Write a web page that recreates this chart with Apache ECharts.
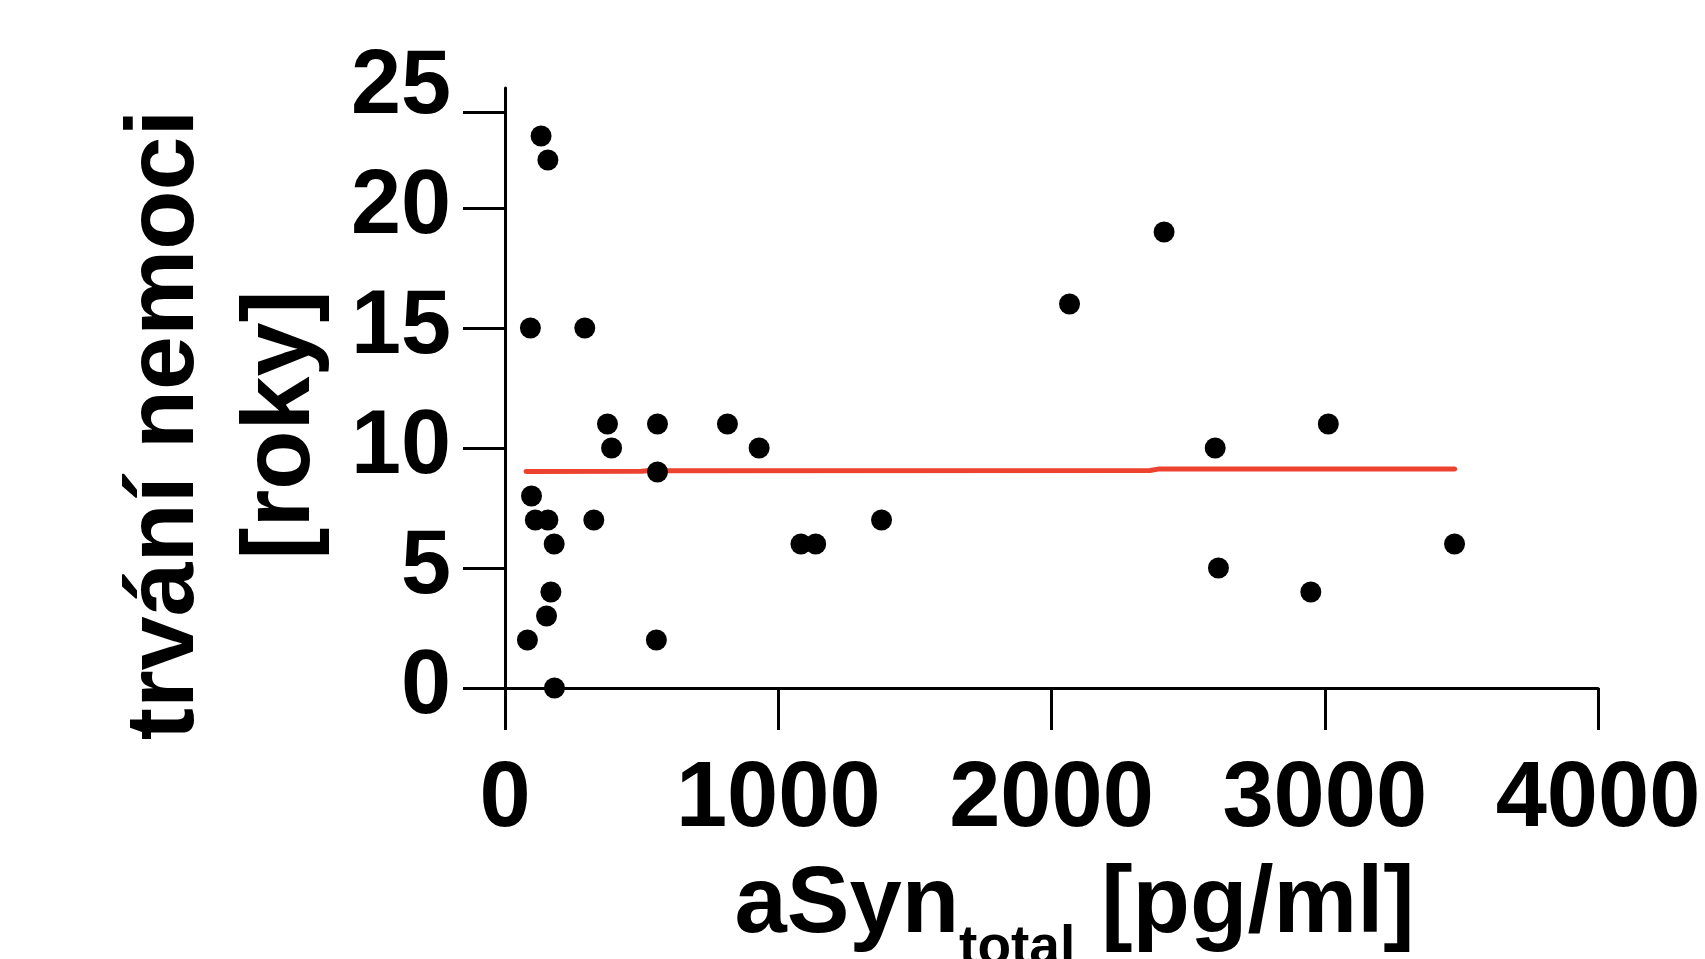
<!DOCTYPE html>
<html>
<head>
<meta charset="utf-8">
<script src="https://cdn.jsdelivr.net/npm/echarts@6/dist/echarts.min.js"></script>
<style>
  html, body { margin: 0; padding: 0; background: #fff; }
  #chart1 { width: 1705px; height: 959px; }
</style>
</head>
<body>
<div id="chart1"></div>
<script>
// aSyn total [pg/ml] vs. disease duration [years]
var asynTotal = [132, 157, 93, 292, 375, 390, 558, 558, 814, 930,
                 97, 111, 157, 325, 180, 1083, 1137, 1378, 168, 152,
                 82, 554, 181, 2066, 2412, 2599, 2611, 3013, 2949, 3475];
var trvani = [23, 22, 15, 15, 11, 10, 11, 9, 11, 10,
              8, 7, 7, 7, 6, 6, 6, 7, 4, 3,
              2, 2, 0, 16, 19, 10, 5, 11, 4, 6];

// fitted line (red)
var fitX = [77, 500, 520, 2360, 2390, 3475];
var fitY = [9.02, 9.03, 9.05, 9.06, 9.12, 9.12];

var yTickValues = [0, 5, 10, 15, 20, 24];
var yLabelValues = [0, 5, 10, 15, 20, 25];

var font = "'Liberation Sans', Arial, sans-serif";

var points = asynTotal.map(function (x, i) { return [x, trvani[i]]; });
var fitLine = fitX.map(function (x, i) { return [x, fitY[i]]; });

var chart1 = echarts.init(document.getElementById("chart1"));
chart1.setOption({
    animation: false,
    grid: {
        left: 505,
        right: 107,
        top: 88,
        bottom: 271,
        containLabel: false,
        outerBoundsMode: 'none'
    },
    xAxis: {
        type: 'value',
        min: 0,
        max: 4000,
        interval: 1000,
        name: '{m|aSyn}{s|total}{m| [pg/ml]}',
        nameLocation: 'middle',
        nameGap: 171,
        nameTextStyle: {
            padding: [0, 0, 0, 46],
            rich: {
                m: { fontFamily: font, fontWeight: 'bold', fontSize: 94, lineHeight: 94, color: '#000', verticalAlign: 'top' },
                s: { fontFamily: font, fontWeight: 'bold', fontSize: 55, lineHeight: 55, color: '#000', verticalAlign: 'top', padding: [62, 0, 0, 0] }
            }
        },
        axisLine: { show: true, onZero: false, lineStyle: { color: '#000', width: 3 } },
        axisTick: { show: true, length: 42, lineStyle: { color: '#000', width: 3 } },
        axisLabel: {
            margin: 67,
            color: '#000',
            fontFamily: font,
            fontWeight: 'bold',
            fontSize: 92,
            formatter: function (v) { return String(v); }
        },
        splitLine: { show: false }
    },
    yAxis: {
        type: 'value',
        min: 0,
        max: 25,
        interval: 5,
        name: 'trvání nemoci\n[roky]',
        nameLocation: 'middle',
        nameGap: 161,
        nameTextStyle: {
            color: '#000',
            fontFamily: font,
            fontWeight: 'bold',
            fontSize: 97,
            lineHeight: 116,
            padding: [0, 74, 0, 0]
        },
        axisLine: { show: true, onZero: false, lineStyle: { color: '#000', width: 3 } },
        axisTick: { show: true, length: 42, customValues: yTickValues, lineStyle: { color: '#000', width: 3 } },
        axisLabel: {
            margin: 54,
            customValues: yLabelValues,
            color: '#000',
            fontFamily: font,
            fontWeight: 'bold',
            fontSize: 90
        },
        splitLine: { show: false }
    },
    series: [
        {
            type: 'line',
            data: fitLine,
            showSymbol: false,
            symbol: 'none',
            lineStyle: { color: '#ee4230', width: 5, cap: 'round' },
            z: 2
        },
        {
            type: 'scatter',
            data: points,
            symbol: 'circle',
            symbolSize: 21,
            itemStyle: { color: '#000', opacity: 1 },
            z: 3
        }
    ]
});
</script>
</body>
</html>
